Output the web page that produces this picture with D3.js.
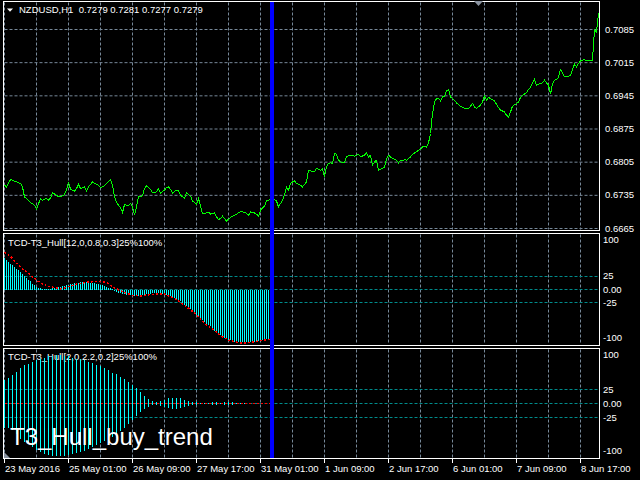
<!DOCTYPE html>
<html><head><meta charset="utf-8">
<script src="https://cdn.jsdelivr.net/npm/d3@7"></script>
<style>
html,body{margin:0;padding:0;background:#000;overflow:hidden}
svg{display:block}
text{font-family:"Liberation Sans",Arial,sans-serif;font-size:9.5px;fill:#fff;white-space:pre}
</style></head><body>
<svg id="c" width="640" height="480"></svg>
<script>
// ---------------- data ----------------
const header = "NZDUSD,H1  0.7279 0.7281 0.7277 0.7279";
const title1 = "TCD-T3_Hull[12,0,0.8,0.3]25%100%";
const title2 = "TCD-T3_Hull[2,0,2.2,0.2]25%100%";
const bigLabel = "T3_Hull_buy_trend";

const barCount = 298;
const priceTicks = [0.6665, 0.6735, 0.6805, 0.6875, 0.6945, 0.7015, 0.7085];
const timeTickIdx = [0, 32, 64, 96, 128, 160, 192, 224, 256, 288];
const timeTickLabels = ["23 May 2016", "25 May 01:00", "26 May 09:00", "27 May 17:00", "31 May 01:00",
  "1 Jun 09:00", "2 Jun 17:00", "6 Jun 01:00", "7 Jun 09:00", "8 Jun 17:00"];
const levelValues = [25, 0, -25];
const levelLabels = ["100", "25", "0.00", "-25", "-100"];
const levelLabelValues = [100, 25, 0, -25, -100];
const vlineBar = 134;

const priceIdx = [0,1,3,5,6,8,9,10,12,13,15,16,18,19,21,22,23,24,26,27,29,30,31,32,33,35,36,37,38,40,41,42,44,45,47,48,50,51,53,54,55,56,57,58,59,60,62,63,64,65,66,67,69,70,71,73,74,76,77,78,80,81,82,83,84,86,87,88,90,91,93,94,96,97,98,99,101,102,103,105,106,107,108,109,110,111,113,114,116,117,118,120,121,122,123,125,126,127,128,130,131,133,134,136,137,139,140,141,142,143,144,145,146,148,149,151,152,155,156,158,159,160,161,162,163,164,165,166,167,168,170,171,174,175,177,178,180,181,182,183,184,185,186,187,189,190,191,192,193,194,196,197,198,199,200,201,203,204,206,207,208,209,210,211,212,213,214,215,216,217,218,219,220,221,222,223,225,226,228,230,232,233,234,235,236,238,239,240,241,242,243,245,246,247,248,250,251,252,253,254,256,257,258,259,261,262,263,264,265,266,268,269,270,271,272,273,274,275,276,277,278,279,280,282,283,284,285,286,287,288,290,291,292,293,294,295,296,297];
const priceVal = [0.67564,0.67528,0.67684,0.67648,0.67633,0.67600,0.67528,0.67317,0.67247,0.67199,0.67142,0.67057,0.67283,0.67247,0.67283,0.67247,0.67296,0.67401,0.67353,0.67317,0.67338,0.67368,0.67458,0.67633,0.67479,0.67437,0.67494,0.67579,0.67494,0.67528,0.67437,0.67528,0.67633,0.67600,0.67564,0.67507,0.67549,0.67600,0.67684,0.67564,0.67317,0.67211,0.67142,0.67085,0.66988,0.67156,0.67127,0.67178,0.67106,0.66931,0.67106,0.67317,0.67338,0.67494,0.67549,0.67479,0.67401,0.67422,0.67494,0.67401,0.67458,0.67515,0.67528,0.67473,0.67401,0.67458,0.67444,0.67353,0.67283,0.67401,0.67332,0.67232,0.67163,0.67283,0.67121,0.66967,0.66979,0.66994,0.66952,0.66979,0.66895,0.66840,0.66861,0.66910,0.66861,0.66810,0.66882,0.66910,0.66952,0.66979,0.67009,0.66994,0.66967,0.66924,0.67000,0.66979,0.66952,0.66910,0.67036,0.67121,0.67232,0.67262,0.67283,0.67232,0.67106,0.67247,0.67353,0.67528,0.67458,0.67600,0.67633,0.67655,0.67600,0.67564,0.67528,0.67633,0.67880,0.67845,0.67916,0.67880,0.67916,0.67739,0.67950,0.68022,0.68034,0.68022,0.68233,0.68218,0.68091,0.68056,0.68034,0.68176,0.68197,0.68176,0.68218,0.68161,0.68197,0.68246,0.68161,0.68197,0.67986,0.68056,0.68091,0.67880,0.67916,0.67950,0.68127,0.68197,0.68161,0.68127,0.68091,0.68034,0.68091,0.68077,0.68106,0.68091,0.68161,0.68218,0.68267,0.68302,0.68317,0.68372,0.68387,0.68360,0.68457,0.68655,0.69077,0.69322,0.69390,0.69394,0.69343,0.69427,0.69442,0.69554,0.69584,0.69427,0.69358,0.69301,0.69231,0.69183,0.69183,0.69231,0.69288,0.69216,0.69183,0.69252,0.69322,0.69442,0.69358,0.69415,0.69394,0.69343,0.69273,0.69204,0.69147,0.69111,0.69041,0.69005,0.69111,0.69231,0.69288,0.69322,0.69415,0.69463,0.69512,0.69584,0.69626,0.69723,0.69795,0.69674,0.69710,0.69723,0.69780,0.69723,0.69674,0.69484,0.69710,0.69780,0.69795,0.69837,0.70006,0.69934,0.69850,0.69864,0.69885,0.70006,0.70118,0.70061,0.70132,0.70187,0.70217,0.70187,0.70202,0.70187,0.70202,0.70850,0.70799,0.71200];

// pane 1 histogram, one value per bar starting at bar 0
const hist1 = [59,56,52,48,45,42,39,36,32,29,25,22,18,15,11,8,5.5,3.6,2.4,
  1.8,1.5,1.2,1.2,1.5,2,2.5,3.2,4,5,6,7,8,9,10,11,12,12.5,13,13.5,14,14,14,13.5,13,12.5,12,11,10,9,8,6.5,5,3.5,2,1,
  -3,-4.5,-6,-7,-8.5,-9.2,-9.8,-10.3,-10.8,-11.2,
  -11.5,-11.5,-11.3,-11,-10.3,-9.5,-8.5,-8,-7.6,-7.4,
  -7.3,-7.2,-7.2,-7.3,-7.8,-8.5,-9.5,-10.7,-12,-14,
  -16,-18,-19.5,-21,-24.5,-28.5,-31,-33.5,-36,-40.5,
  -45,-48,-50.5,-53,-57,-61,-64,-66.5,-69,-73,
  -77,-80,-82.5,-85,-88,-91,-92.5,-94,-95,-96.5,
  -98,-98.5,-99,-99,-99,-99,-99,-99,-99,-98.5,
  -98,-97.5,-96.8,-96,-95.3,-94.5,-93.5,-92.7,-92,-91];
const sig1Idx = [0,3,8,13,18,23,28,30,35,40,45,49,52,55,60,64,68,72,76,80,82,85,88,91,95,98,101,105,108,111,115,118,121,125,128,131,134];
const sig1Val = [70,62,42,27,12,5,1.2,3,9,13,15,15,11,3,-5.5,-11,-12,-10,-8.5,-8.5,-12,-17,-23.6,-32.7,-43.6,-54.5,-66,-77,-86,-93,-98,-100,-100,-98,-96,-94,-93];

// pane 2 histogram (upper and lower parts)
const hist2Idx = d3.range(0, 122, 2);
const hist2Up = [42,46,51,57,64,68,71,75,78,80,82,84,85,86,86,85,84,82,80,79,77,74,72,69,67,63,59,55,52,48,43,38,33,28,21,14,8,4,3,5,7,9,10,10,9,7,5,3,2,1.5,1,1.5,2,2,1.5,2,2.5,2,1.5,1,0.5];
const hist2Dn = [-43,-44,-48,-55,-63,-68,-73,-78,-83,-87,-90,-92,-93,-94,-94,-93,-92,-90,-89,-87,-84,-81,-77,-74,-70,-67,-63,-59,-54,-49,-43,-36,-29,-22,-15,-10,-6,-3,-2,-4,-6,-8,-9,-9,-8,-6,-4,-3,-2,-1.5,-1,-1.5,-2,-2,-1.5,-2,-2.5,-2,-1.5,-1,-0.5];
const sig2Idx = [0,20,40,60,80,100,120,134];
const sig2Val = [0,0,0,0,0,0,0,0];

// ---------------- drawing ----------------
const svg = d3.select("#c");
const W = 640, H = 480;
svg.append("rect").attr("width", W).attr("height", H).attr("fill", "#000");

const L = 3.5, R = 599.5;
const panes = {
  A: {top: 1.5, bottom: 230.5},
  B: {top: 233.5, bottom: 345.5},
  C: {top: 348.5, bottom: 458.5}
};
const x = d3.scaleLinear().domain([0, barCount - 1]).range([4, 4 + 2 * (barCount - 1)]);
const yA = d3.scaleLinear().domain([0.6665, 0.7085]).range([228.5, 29.5]);
const yB = d3.scaleLinear().domain([-104, 104]).range([345, 234]);
const yC = d3.scaleLinear().domain([-100, 100]).range([459.5, 347.5]);

const GRID = "#778899", TEAL = "#008b8b";
const crisp = v => Math.floor(v) + 0.5;

// vertical grid in all panes
const gridIdx = d3.range(0, barCount, 16);
Object.values(panes).forEach(p => {
  svg.append("g").selectAll("line").data(gridIdx).join("line")
    .attr("x1", d => x(d) + 0.5).attr("x2", d => x(d) + 0.5)
    .attr("y1", p.top + 1).attr("y2", p.bottom - 1)
    .attr("stroke", GRID).attr("stroke-dasharray", "3,2");
});
// horizontal price grid
svg.append("g").selectAll("line").data(priceTicks).join("line")
  .attr("x1", L + 1).attr("x2", R - 1)
  .attr("y1", d => yA(d)).attr("y2", d => yA(d))
  .attr("stroke", GRID).attr("stroke-dasharray", "3,2");
// level lines
[[yB], [yC]].forEach(([ys]) => {
  svg.append("g").selectAll("line").data(levelValues).join("line")
    .attr("x1", L + 1).attr("x2", R - 1)
    .attr("y1", d => crisp(ys(d))).attr("y2", d => crisp(ys(d)))
    .attr("stroke", TEAL).attr("stroke-dasharray", "3,2");
});

// titles (drawn before bars)
svg.append("text").attr("x", 8).attr("y", 246).text(title1);
svg.append("text").attr("x", 8).attr("y", 360).text(title2);

// price line
const priceData = priceIdx.map((d, i) => [d, priceVal[i]]);
svg.append("path").datum(priceData)
  .attr("d", d3.line().x(d => x(d[0]) + 0.5).y(d => yA(d[1])))
  .attr("fill", "none").attr("stroke", "#00ff00").attr("stroke-width", 1)
  .attr("shape-rendering", "crispEdges");

// pane B histogram
svg.append("g").attr("shape-rendering", "crispEdges").selectAll("line").data(hist1).join("line")
  .attr("x1", (d, i) => x(i) + 0.5).attr("x2", (d, i) => x(i) + 0.5)
  .attr("y1", yB(0)).attr("y2", d => yB(d))
  .attr("stroke", "#00ffff").attr("stroke-width", 1);
svg.append("path").datum(sig1Idx.map((d, i) => [d, sig1Val[i]]))
  .attr("d", d3.line().x(d => x(d[0]) + 0.5).y(d => yB(d[1])))
  .attr("fill", "none").attr("stroke", "#ff0000").attr("stroke-width", 1.5)
  .attr("stroke-dasharray", "2,2").attr("shape-rendering", "crispEdges");

// pane C histogram
const h2 = hist2Idx.map((d, i) => ({i: d, up: hist2Up[i], dn: hist2Dn[i]}));
svg.append("g").attr("shape-rendering", "crispEdges").selectAll("line").data(h2).join("line")
  .attr("x1", d => x(d.i) + 0.5).attr("x2", d => x(d.i) + 0.5)
  .attr("y1", d => yC(d.dn)).attr("y2", d => yC(d.up))
  .attr("stroke", "#00ffff").attr("stroke-width", 1);
svg.append("path").datum(sig2Idx.map((d, i) => [d, sig2Val[i]]))
  .attr("d", d3.line().x(d => x(d[0]) + 0.5).y(d => crisp(yC(d[1]))))
  .attr("fill", "none").attr("stroke", "#ff0000").attr("stroke-width", 1)
  .attr("stroke-dasharray", "2,2").attr("shape-rendering", "crispEdges");

// pane borders
Object.values(panes).forEach(p => {
  svg.append("rect").attr("x", L).attr("y", p.top).attr("width", R - L).attr("height", p.bottom - p.top)
    .attr("fill", "none").attr("stroke", "#fff").attr("stroke-width", 1);
});

// vertical blue line
svg.append("line").attr("x1", x(vlineBar)).attr("x2", x(vlineBar))
  .attr("y1", 2).attr("y2", 458).attr("stroke", "#0000ff").attr("stroke-width", 4);

// header
svg.append("path").attr("d", "M7,8.5 L13,8.5 L10,11.8 Z").attr("fill", "#fff");
svg.append("text").attr("x", 19).attr("y", 12.8).text(header);
// chart shift marker + corner marker
svg.append("path").attr("d", "M474,1 L483,1 L478.5,6 Z").attr("fill", "#8a93a0");
svg.append("path").attr("d", "M4,452 L4,458 L10,458 Z").attr("fill", "#8a93a0");

// price axis labels
svg.append("g").selectAll("text").data(priceTicks).join("text")
  .attr("x", 605).attr("y", d => yA(d) + 3).text(d => d.toFixed(4));

// indicator axis labels
[[yB, panes.B], [yC, panes.C]].forEach(([ys, p]) => {
  svg.append("g").selectAll("text").data(levelLabelValues).join("text")
    .attr("x", 603)
    .attr("y", d => Math.max(p.top + 6.5, Math.min(p.bottom - 7.5, ys(d))) + 3)
    .text((d, i) => levelLabels[i]);
});

// time axis
svg.append("g").selectAll("line").data(timeTickIdx).join("line")
  .attr("x1", d => x(d) + 0.5).attr("x2", d => x(d) + 0.5)
  .attr("y1", 458.5).attr("y2", 463).attr("stroke", "#fff");
svg.append("g").selectAll("text").data(timeTickIdx).join("text")
  .attr("x", d => x(d) + 1).attr("y", 471.5).text((d, i) => timeTickLabels[i]);

// big label
svg.append("text").attr("x", 10).attr("y", 445).style("font-size", "24px").text(bigLabel);
</script>
</body></html>
